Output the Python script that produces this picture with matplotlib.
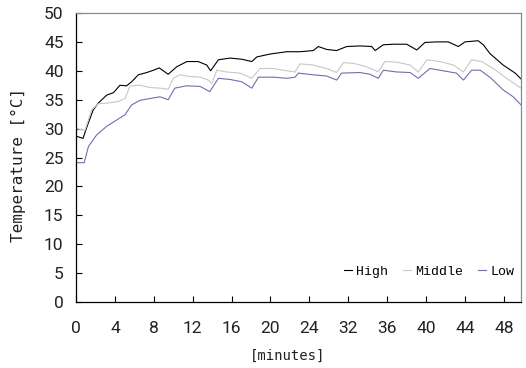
import matplotlib
matplotlib.use("Agg")
import matplotlib.pyplot as plt

# x positions are in category-axis units (one unit per tick label)
tick_labels = ["0", "4", "8", "12", "16", "20", "24", "32", "36", "40", "44", "48"]

high_x = [0.00, 0.18, 0.28, 0.44, 0.57, 0.79, 0.96, 1.13, 1.30, 1.43, 1.60, 1.82, 1.99, 2.14,
          2.37, 2.59, 2.85, 3.14, 3.36, 3.46, 3.66, 3.96, 4.26, 4.52, 4.65, 4.99, 5.42, 5.76,
          6.10, 6.23, 6.44, 6.70, 6.96, 7.30, 7.60, 7.69, 7.90, 8.16, 8.50, 8.76, 8.97, 9.27,
          9.57, 9.83, 10.00, 10.34, 10.47, 10.64, 10.98, 11.29, 11.44]
high_y = [28.7, 28.3, 30.3, 33.2, 34.4, 35.8, 36.2, 37.5, 37.4, 38.1, 39.3, 39.7, 40.1, 40.5,
          39.4, 40.7, 41.6, 41.6, 41.0, 40.0, 41.9, 42.2, 42.0, 41.6, 42.4, 42.9, 43.3, 43.3,
          43.5, 44.2, 43.7, 43.5, 44.2, 44.3, 44.2, 43.5, 44.5, 44.6, 44.6, 43.6, 44.9, 45.0,
          45.0, 44.2, 45.0, 45.2, 44.5, 43.0, 41.0, 39.6, 38.6]

middle_x = [0.00, 0.23, 0.40, 0.57, 0.79, 1.09, 1.26, 1.39, 1.65, 1.90, 2.16, 2.37, 2.50, 2.67,
            2.93, 3.19, 3.40, 3.49, 3.62, 3.87, 4.22, 4.52, 4.73, 5.07, 5.42, 5.63, 5.76, 6.10,
            6.44, 6.70, 6.87, 7.13, 7.47, 7.77, 7.94, 8.24, 8.59, 8.80, 9.02, 9.36, 9.70, 9.96,
            10.17, 10.43, 10.73, 11.07, 11.44]
middle_y = [30.0, 29.7, 33.2, 34.3, 34.4, 34.7, 35.2, 37.4, 37.5, 37.1, 37.0, 36.8, 38.7, 39.3,
            39.0, 38.9, 38.4, 37.8, 40.1, 39.8, 39.6, 38.7, 40.4, 40.4, 40.0, 39.8, 41.2, 41.0,
            40.4, 39.7, 41.4, 41.3, 40.7, 39.8, 41.6, 41.5, 41.0, 39.8, 41.9, 41.6, 41.0, 39.8,
            41.9, 41.6, 40.4, 38.7, 37.0]

low_x = [0.00, 0.21, 0.32, 0.53, 0.79, 1.05, 1.26, 1.43, 1.65, 1.90, 2.16, 2.37, 2.54, 2.84,
         3.19, 3.44, 3.66, 3.96, 4.26, 4.52, 4.69, 5.07, 5.42, 5.63, 5.72, 6.10, 6.44, 6.70,
         6.83, 7.30, 7.56, 7.77, 7.90, 8.24, 8.59, 8.80, 9.10, 9.44, 9.78, 9.96, 10.17, 10.39,
         10.64, 10.98, 11.24, 11.44]
low_y = [24.1, 24.1, 26.9, 28.9, 30.4, 31.5, 32.4, 34.1, 34.9, 35.2, 35.5, 35.0, 37.0, 37.4,
         37.3, 36.4, 38.7, 38.5, 38.1, 37.0, 38.9, 38.9, 38.7, 38.9, 39.6, 39.3, 39.1, 38.4,
         39.6, 39.7, 39.4, 38.7, 40.1, 39.8, 39.7, 38.7, 40.4, 40.0, 39.6, 38.4, 40.1, 40.1,
         38.9, 36.7, 35.5, 34.1]

series_names = ["High", "Middle", "Low"]
series_colors = ["#000000", "#c8c8c8", "#6f6fae"]

fig = plt.figure(figsize=(5.26, 3.68), dpi=100)
ax = fig.add_axes([0.1445, 0.1793, 0.8460, 0.7854])

for xs, ys, name, col in zip([high_x, middle_x, low_x], [high_y, middle_y, low_y],
                             series_names, series_colors):
    ax.plot(xs, ys, color=col, lw=0.8, label=name)

ax.set_xlim(0, 11.44)
ax.set_ylim(0, 50)
ax.set_xticks(range(len(tick_labels)))
ax.set_xticklabels(tick_labels)
ax.set_yticks(range(0, 51, 5))

ax.tick_params(axis="both", direction="in", length=4, width=0.8, colors="black",
               labelsize=12.5, labelcolor="#222222")
ax.tick_params(axis="x", pad=14)
ax.tick_params(axis="y", pad=9)
for lab in ax.get_xticklabels() + ax.get_yticklabels():
    lab.set_fontfamily("Roboto")

for s in ["left", "bottom"]:
    ax.spines[s].set_color("black")
    ax.spines[s].set_linewidth(0.9)
for s in ["top", "right"]:
    ax.spines[s].set_color("#8a8a8a")
    ax.spines[s].set_linewidth(0.9)

ax.set_xlabel("[minutes]", family="DejaVu Sans Mono", fontsize=10, color="#222222")
ax.xaxis.set_label_coords(0.476, -0.163)
ax.set_ylabel("Temperature [°C]", family="DejaVu Sans Mono", fontsize=11.5, color="#222222")
ax.yaxis.set_label_coords(-0.112, 0.474)

leg = ax.legend(loc="center right", ncol=3, frameon=False, handlelength=0.6,
                handletextpad=0.35, columnspacing=1.1,
                bbox_to_anchor=(0.985, 0.104), borderaxespad=0, borderpad=0,
                prop={"family": "Liberation Mono", "size": 9.5})

fig.savefig("out.png", dpi=100, facecolor="white")
